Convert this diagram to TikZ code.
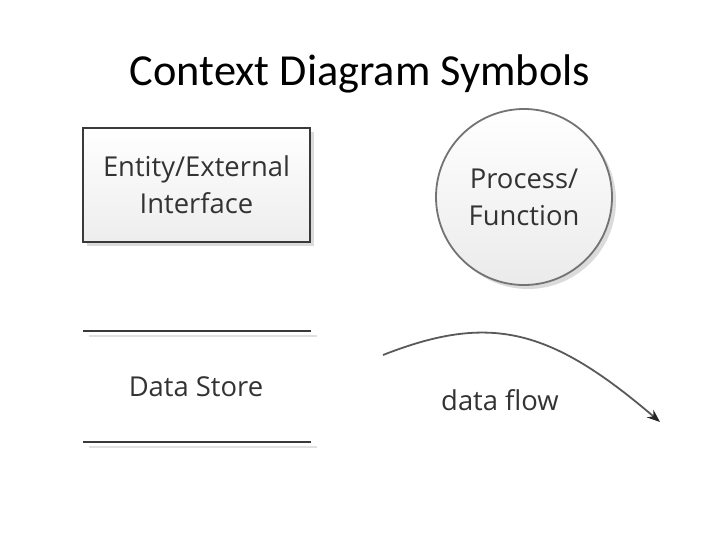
\documentclass[tikz,border=0pt]{standalone}
\usepackage{fontspec}
\setmainfont{Carlito}
\newfontfamily\symfont{Open Sans}
\usetikzlibrary{arrows.meta,shadows}

\definecolor{textgray}{HTML}{333333}
\definecolor{linegray}{HTML}{3A3A3A}

\begin{document}
\begin{tikzpicture}[x=1bp, y=-1bp,
	symtext/.style = {font=\symfont\fontsize{27.5}{37}\selectfont, text=textgray, align=center},
	symshadow/.style = {drop shadow={shadow xshift=4bp, shadow yshift=-4bp, fill=black!14, opacity=1}}]

	% Page (pixel units, y downwards)

	\useasboundingbox (0, 0) rectangle (720, 540);

	% Title

	\node [font=\fontsize{44.5}{52}\selectfont, anchor=base] (title) at (360, 86) {Context Diagram Symbols};

	% Entity / external interface

	\node [symtext, draw=linegray, line width=2.5bp, top color=white, bottom color=black!7,
		minimum width=227bp, minimum height=114bp, symshadow] (entity) at (196.5, 185) {Entity/External\\Interface};

	% Process / function

	\node [symtext, circle, draw=black!55, line width=1.8bp, top color=white, bottom color=black!8,
		minimum size=176bp, inner sep=0pt, symshadow] (process) at (524, 197) {Process/\\Function};

	% Data store

	\def\xl{83}		% Left end
	\def\xr{311}	% Right end

	\draw [black!12, line width=2.5bp] (\xl + 6, 336) -- (\xr + 6, 336);
	\draw [black!12, line width=2.5bp] (\xl + 6, 447) -- (\xr + 6, 447);
	\draw [linegray, line width=2.5bp] (\xl, 331) coordinate (storetop) -- (\xr, 331);
	\draw [linegray, line width=2.5bp] (\xl, 442) coordinate (storebottom) -- (\xr, 442);
	\node [symtext] (store) at (196, 387) {Data Store};

	% Data flow

	\coordinate (flowstart) at (383, 355);
	\coordinate (flowend) at (660, 422);
	\draw [black!65, line width=1.8bp, -{Stealth[length=13bp, width=10bp, black!85]}]
		(flowstart) .. controls (490, 313) and (550, 328) .. (flowend);
	\node [symtext] (flow) at (500, 400) {data flow};

\end{tikzpicture}
\end{document}
